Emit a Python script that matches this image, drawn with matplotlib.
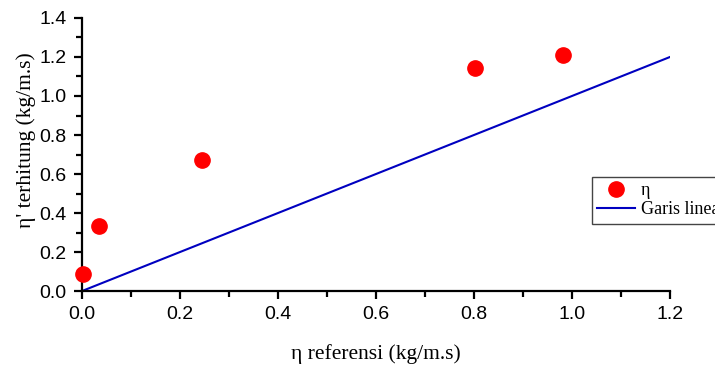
import numpy as np
import matplotlib.pyplot as plt
from matplotlib.ticker import MultipleLocator

# Data
eta_ref = [0.003, 0.034, 0.244, 0.803, 0.982]
eta_hit = [0.088, 0.335, 0.670, 1.146, 1.210]
line_x = [0.0, 1.2]
line_y = [0.0, 1.2]

fig = plt.figure(figsize=(7.15, 3.67), dpi=100)
ax = fig.add_axes([0.1147, 0.207, 0.8223, 0.744])

ax.plot(eta_ref, eta_hit, 'o', color='red', markersize=11, label='η', clip_on=False, zorder=3)
ax.plot(line_x, line_y, '-', color='#0000c0', linewidth=1.5, label='Garis linear')

ax.set_xlim(0, 1.2)
ax.set_ylim(0, 1.4)
ax.xaxis.set_major_locator(MultipleLocator(0.2))
ax.xaxis.set_minor_locator(MultipleLocator(0.1))
ax.yaxis.set_major_locator(MultipleLocator(0.2))
ax.yaxis.set_minor_locator(MultipleLocator(0.1))
ax.set_xticklabels([f'{v:.1f}' for v in ax.get_xticks()])
ax.set_yticklabels([f'{v:.1f}' for v in ax.get_yticks()])

ax.spines['top'].set_visible(False)
ax.spines['right'].set_visible(False)
for s in ['left', 'bottom']:
    ax.spines[s].set_linewidth(1.6)
ax.tick_params(which='major', direction='out', length=6, width=1.6, labelsize=14, pad=5)
ax.tick_params(which='minor', direction='out', length=4, width=1.6)
for lab in ax.get_xticklabels() + ax.get_yticklabels():
    lab.set_fontfamily('Liberation Sans')

ax.set_xlabel('η referensi (kg/m.s)', fontfamily='Liberation Serif', fontsize=15.5, labelpad=15)
ax.set_ylabel('η\' terhitung (kg/m.s)', fontfamily='Liberation Serif', fontsize=15.5, labelpad=6)
ax.yaxis.set_label_coords(-0.078, 0.553)

leg = fig.legend(loc='upper left', bbox_to_anchor=(0.828, 0.518), fancybox=False,
                 edgecolor='#444444', framealpha=1, prop={'family': 'Liberation Serif', 'size': 13},
                 handlelength=2.1, borderaxespad=0, borderpad=0.3, labelspacing=0.1, handletextpad=0.3)
leg.get_frame().set_linewidth(1.0)

fig.savefig('out.png', dpi=100)
